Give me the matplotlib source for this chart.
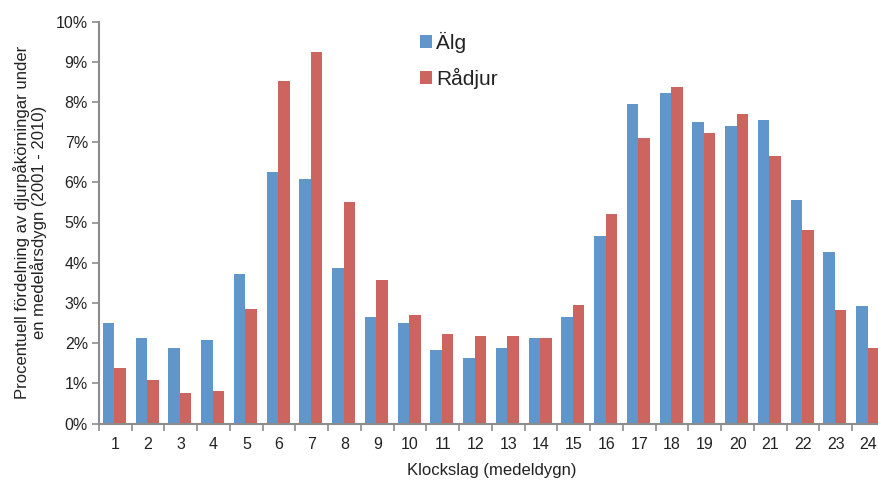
import numpy as np
import matplotlib
matplotlib.use("Agg")
import matplotlib.pyplot as plt
from matplotlib.ticker import FixedLocator, NullFormatter

# data (procent per timme)
timmar = list(range(1, 25))
alg = [2.51, 2.12, 1.87, 2.07, 3.71, 6.26, 6.07, 3.86, 2.66, 2.51, 1.82, 1.62,
       1.87, 2.12, 2.66, 4.66, 7.95, 8.21, 7.51, 7.41, 7.56, 5.57, 4.27, 2.92]
radjur = [1.37, 1.07, 0.77, 0.82, 2.86, 8.52, 9.25, 5.51, 3.56, 2.71, 2.22, 2.17,
          2.17, 2.12, 2.96, 5.21, 7.11, 8.36, 7.22, 7.71, 6.66, 4.81, 2.82, 1.87]
yticks = list(range(0, 11))

blue = "#6096CA"
red = "#CC6560"
grey = "#8C8C8C"

plt.rcParams['font.family'] = ['Liberation Sans', 'DejaVu Sans']

fig = plt.figure(figsize=(8.79, 4.83), dpi=100)
ax = fig.add_axes([99/879, 1 - 423.5/483, 786/879, (423.5 - 21.5)/483])

x = np.array(timmar)
w = 0.35
ax.bar(x - w/2 - 0.03, alg, width=w, color=blue, label="Älg")
ax.bar(x + w/2 - 0.03, radjur, width=w, color=red, label="Rådjur")

ax.set_xlim(0.5, 24.5)
ax.set_ylim(0, 10)

# y-axis
ax.set_yticks(yticks)
ax.set_yticklabels([f"{v}%" for v in yticks])
# x-axis: tick marks between categories, labels centered
ax.xaxis.set_major_locator(FixedLocator(np.arange(0.5, 25, 1)))
ax.xaxis.set_major_formatter(NullFormatter())
ax.xaxis.set_minor_locator(FixedLocator(x))
ax.set_xticklabels([str(t) for t in timmar], minor=True)

for s in ["top", "right"]:
    ax.spines[s].set_visible(False)
for s in ["left", "bottom"]:
    ax.spines[s].set_color(grey)
    ax.spines[s].set_linewidth(1.5)

ax.tick_params(axis="y", which="major", direction="out", length=5, width=1.2,
               color=grey, labelsize=11.5, labelcolor="#222222", pad=3)
ax.tick_params(axis="x", which="major", direction="out", length=5, width=1.2,
               color=grey)
ax.tick_params(axis="x", which="minor", length=0, labelsize=11.5,
               labelcolor="#222222", pad=10)

ax.set_xlabel("Klockslag (medeldygn)", fontsize=12, color="#222222", labelpad=8)
ax.set_ylabel("Procentuell fördelning av djurpåkörningar under\nen medelårsdygn (2001 - 2010)",
              fontsize=12, color="#222222", labelpad=6, linespacing=1.0)

leg = ax.legend(loc="upper left", bbox_to_anchor=(0.392, 1.005), frameon=False,
                fontsize=15, handlelength=0.6, handleheight=0.6,
                handletextpad=0.2, labelspacing=0.7, borderaxespad=0.2)
for t in leg.get_texts():
    t.set_color("#222222")

fig.savefig("out.png", dpi=100)
